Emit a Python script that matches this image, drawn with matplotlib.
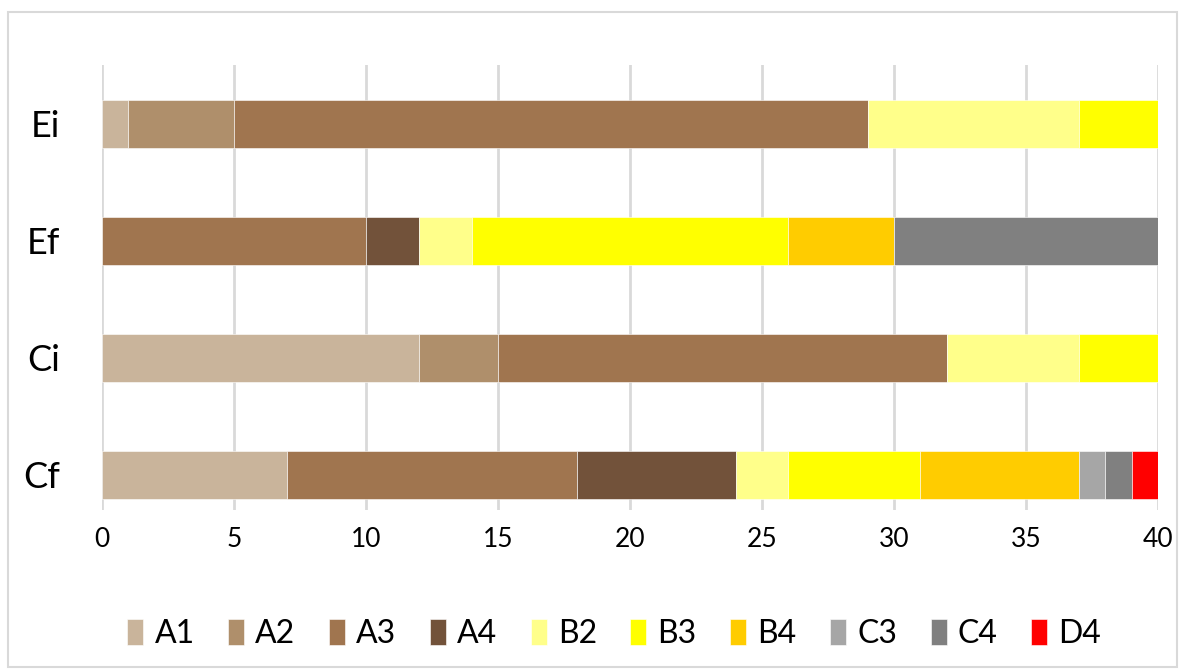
import numpy as np
import matplotlib.pyplot as plt
from matplotlib.patches import Rectangle

plt.rcParams['font.family'] = ['Lato', 'DejaVu Sans']

groups = ['Cf', 'Ci', 'Ef', 'Ei']
series = ['A1', 'A2', 'A3', 'A4', 'B2', 'B3', 'B4', 'C3', 'C4', 'D4']
colors = ['#C9B49B', '#AF8F6B', '#A0754F', '#72523A', '#FFFF8A',
          '#FFFF00', '#FFCC00', '#A6A6A6', '#808080', '#FF0000']

# values per series, in order Cf, Ci, Ef, Ei
A1 = [7, 12, 0, 1]
A2 = [0, 3, 0, 4]
A3 = [11, 17, 10, 24]
A4 = [6, 0, 2, 0]
B2 = [2, 5, 2, 8]
B3 = [5, 3, 12, 3]
B4 = [6, 0, 4, 0]
C3 = [1, 0, 0, 0]
C4 = [1, 0, 10, 0]
D4 = [1, 0, 0, 0]
values = [A1, A2, A3, A4, B2, B3, B4, C3, C4, D4]

fig = plt.figure(figsize=(11.81, 6.70), dpi=100)
ax = fig.add_axes([0.0864, 0.239, 0.8941, 0.664])

y = np.arange(len(groups))
left = np.zeros(len(groups))
for name, col, vals in zip(series, colors, values):
    vals = np.array(vals, dtype=float)
    ax.barh(y, vals, left=left, height=0.41, color=col, label=name,
            edgecolor='white', linewidth=0.4)
    left += vals

ax.set_xlim(0, 40)
ax.set_ylim(-0.3, 3.5)
ax.set_xticks(range(0, 41, 5))
ax.set_yticks(y)
ax.set_yticklabels(groups, fontsize=26)
ax.tick_params(axis='x', labelsize=19, length=0, pad=12)
ax.tick_params(axis='y', length=0, pad=30)
ax.grid(axis='x', color='#D9D9D9', linewidth=2)
ax.set_axisbelow(True)
for s in ax.spines.values():
    s.set_visible(False)

ax.legend(loc='upper center', bbox_to_anchor=(0.485, -0.18), ncol=10,
          frameon=False, fontsize=23, handlelength=0.5, handleheight=0.9,
          handletextpad=0.35, columnspacing=1.05)

fig.patches.append(Rectangle((0.007, 0.004), 0.99, 0.978, transform=fig.transFigure,
                             fill=False, edgecolor='#D9D9D9', linewidth=1.5))

fig.savefig('out.png', dpi=100)
